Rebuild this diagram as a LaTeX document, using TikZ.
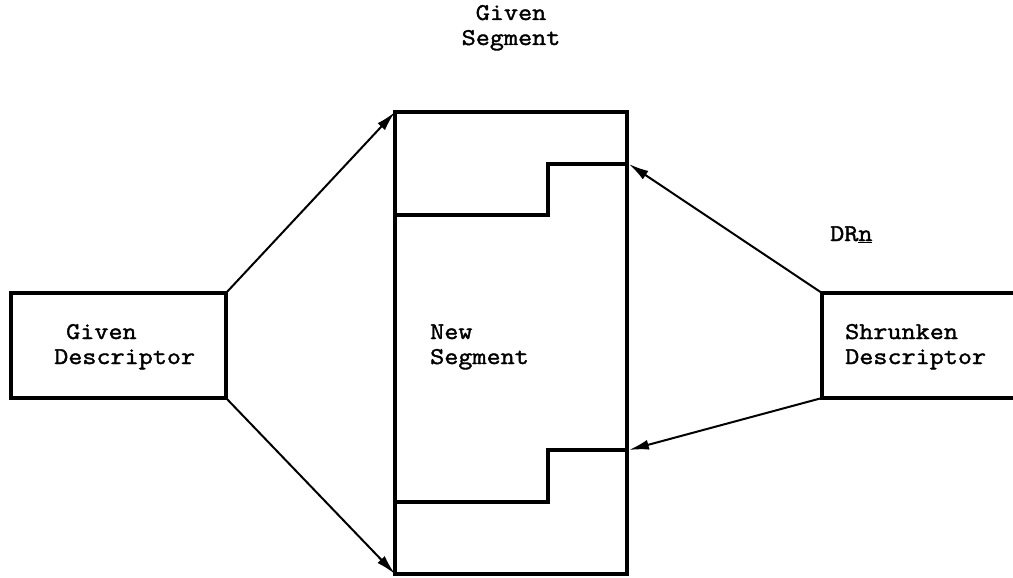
\documentclass[tikz,border=0pt]{standalone}
\usepackage{fontspec}
\newfontfamily\typew{Latin Modern Mono}[FakeBold=1.6,FakeStretch=1.14]
\usetikzlibrary{arrows.meta}
\begin{document}
\begin{tikzpicture}[x=1pt,y=-1pt,
  boxline/.style={line width=3.8pt},
  conn/.style={line width=2pt,-{Latex[length=20pt,width=10pt]}},
  lbl/.style={font=\typew\fontsize{24}{26}\selectfont,inner sep=0pt,anchor=base west}]
\useasboundingbox (0,0) rectangle (1013,578);
% boxes
\node[boxline,draw,rectangle,minimum width=215pt,minimum height=105pt,outer sep=0pt] (gd) at (118.5,345.5) {};
\node[boxline,draw,rectangle,minimum width=232pt,minimum height=462pt,outer sep=0pt] (seg) at (511,343) {};
\node[rectangle,minimum width=200pt,minimum height=105pt,inner sep=0pt,outer sep=0pt] (sd) at (922,345.5) {};
\draw[boxline] ([xshift=195pt]sd.north west) -- (sd.north west) -- (sd.south west) -- ([xshift=195pt]sd.south west);
% steps inside the segment
\coordinate (s1a) at (seg.west |- 0,215);
\coordinate (s1b) at (548,215);
\coordinate (s1c) at (548,164);
\coordinate (s1d) at (seg.east |- 0,164);
\coordinate (s2a) at (seg.east |- 0,450);
\coordinate (s2b) at (548,450);
\coordinate (s2c) at (548,502);
\coordinate (s2d) at (seg.west |- 0,502);
\draw[boxline] (s1a) -- (s1b) -- (s1c) -- (s1d);
\draw[boxline] (s2a) -- (s2b) -- (s2c) -- (s2d);
% connectors
\draw[conn] (gd.north east) -- (seg.north west);
\draw[conn] (gd.south east) -- (seg.south west);
\draw[conn] (sd.north west) -- ([xshift=1.9pt]s1d);
\draw[conn] (sd.south west) -- ([xshift=1.9pt]s2a);
% texts
\node[lbl,anchor=base] (t1) at (511,20) {Given};
\node[lbl,anchor=base] (t2) at (511,45) {Segment};
\node[lbl] (g1) at (66,339) {Given};
\node[lbl] (g2) at (54,364) {Descriptor};
\node[lbl] (n1) at (430,339) {New};
\node[lbl] (n2) at (430,364) {Segment};
\node[lbl] (h1) at (845,339) {Shrunken};
\node[lbl] (h2) at (845,364) {Descriptor};
\node[lbl] (dr) at (830,241) {DR\underline{n}};
\end{tikzpicture}
\end{document}
